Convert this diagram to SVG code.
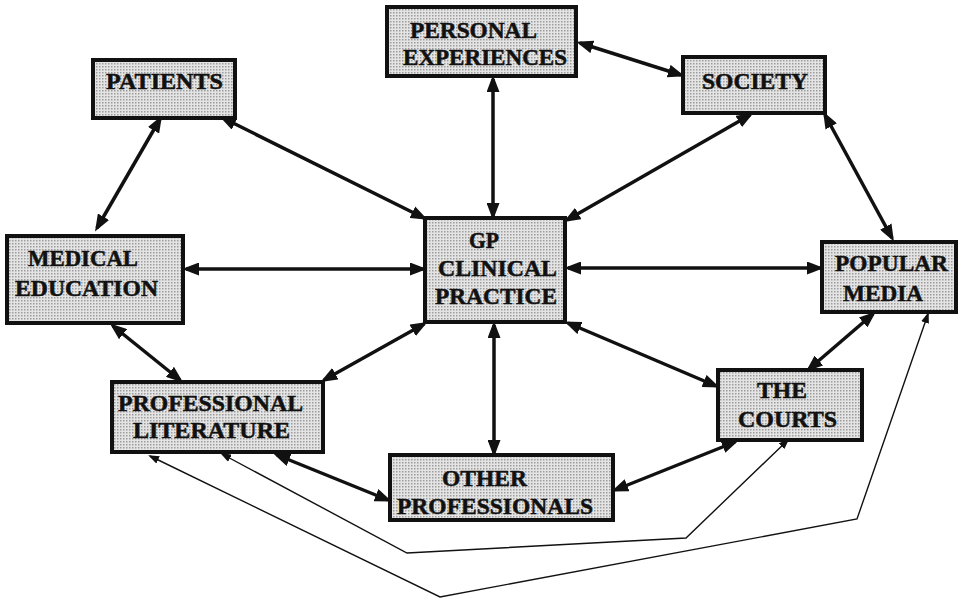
<svg xmlns="http://www.w3.org/2000/svg" width="962" height="606" viewBox="0 0 962 606">
<defs>
<pattern id="stip" width="3" height="3" patternUnits="userSpaceOnUse">
<rect width="3" height="3" fill="#e4e4e4"/>
<rect width="1.5" height="1.5" fill="#9c9c9c"/>
</pattern>
<marker id="ah" markerUnits="userSpaceOnUse" markerWidth="17" markerHeight="13" refX="13" refY="6.5" orient="auto-start-reverse">
<path d="M0,0 L17,6.5 L0,13 z" fill="#111"/>
</marker>
<marker id="as" markerUnits="userSpaceOnUse" markerWidth="11" markerHeight="8" refX="9" refY="4" orient="auto-start-reverse">
<path d="M0,0 L11,4 L0,8 z" fill="#111"/>
</marker>
</defs>
<style>
.box{fill:url(#stip);stroke:#111;stroke-width:4}
.t{font-family:"Liberation Serif","Times New Roman",serif;font-weight:bold;font-size:23px;fill:#111;stroke:#111;stroke-width:0.5;text-anchor:middle}
.c{fill:none;stroke:#111;stroke-width:3.5;marker-start:url(#ah);marker-end:url(#ah)}
.thin{fill:none;stroke:#111;stroke-width:1.4;stroke-linejoin:miter;marker-start:url(#as);marker-end:url(#as)}
</style>
<rect width="962" height="606" fill="#fff"/>
<g id="connectors">
<line class="c" x1="160" y1="119" x2="97" y2="228"/>
<line class="c" x1="223" y1="118" x2="424" y2="218"/>
<line class="c" x1="493" y1="79" x2="493" y2="216"/>
<line class="c" x1="580" y1="43" x2="681" y2="75"/>
<line class="c" x1="750" y1="115" x2="567" y2="220"/>
<line class="c" x1="825" y1="115" x2="892" y2="238"/>
<line class="c" x1="186" y1="269" x2="423" y2="269"/>
<line class="c" x1="568" y1="268" x2="820" y2="268"/>
<line class="c" x1="113" y1="326" x2="180" y2="380"/>
<line class="c" x1="424" y1="324" x2="324" y2="380"/>
<line class="c" x1="494" y1="325" x2="494" y2="453"/>
<line class="c" x1="568" y1="323" x2="716" y2="386"/>
<line class="c" x1="809" y1="369" x2="873" y2="314"/>
<line class="c" x1="277" y1="455" x2="388" y2="500"/>
<line class="c" x1="615" y1="490" x2="735" y2="442"/>
<polyline class="thin" points="788,440 686,538 407,553 222,454"/>
<polyline class="thin" points="928,314 857,519 440,597 150,456"/>
</g>
<g id="personal-experiences">
<rect class="box" x="387" y="7" width="189" height="69"/>
<text class="t" x="473.5" y="38" textLength="127" lengthAdjust="spacingAndGlyphs">PERSONAL</text>
<text class="t" x="485" y="65" textLength="164" lengthAdjust="spacingAndGlyphs">EXPERIENCES</text>
</g>
<g id="patients">
<rect class="box" x="93" y="60" width="142" height="58"/>
<text class="t" x="164.5" y="89" textLength="117" lengthAdjust="spacingAndGlyphs">PATIENTS</text>
</g>
<g id="society">
<rect class="box" x="683" y="57" width="142" height="56"/>
<text class="t" x="755" y="89" textLength="106" lengthAdjust="spacingAndGlyphs">SOCIETY</text>
</g>
<g id="medical-education">
<rect class="box" x="7" y="236" width="176" height="87"/>
<text class="t" x="83" y="266" textLength="110" lengthAdjust="spacingAndGlyphs">MEDICAL</text>
<text class="t" x="86.5" y="296" textLength="143" lengthAdjust="spacingAndGlyphs">EDUCATION</text>
</g>
<g id="gp-clinical-practice">
<rect class="box" x="425" y="218" width="140" height="104"/>
<text class="t" x="484" y="248" textLength="30" lengthAdjust="spacingAndGlyphs">GP</text>
<text class="t" x="497.5" y="276" textLength="119" lengthAdjust="spacingAndGlyphs">CLINICAL</text>
<text class="t" x="496" y="304" textLength="122" lengthAdjust="spacingAndGlyphs">PRACTICE</text>
</g>
<g id="popular-media">
<rect class="box" x="822" y="242" width="134" height="70"/>
<text class="t" x="891.5" y="271" textLength="113" lengthAdjust="spacingAndGlyphs">POPULAR</text>
<text class="t" x="883" y="301" textLength="80" lengthAdjust="spacingAndGlyphs">MEDIA</text>
</g>
<g id="professional-literature">
<rect class="box" x="112" y="382" width="211" height="70"/>
<text class="t" x="210.5" y="411" textLength="185" lengthAdjust="spacingAndGlyphs">PROFESSIONAL</text>
<text class="t" x="211.5" y="438" textLength="157" lengthAdjust="spacingAndGlyphs">LITERATURE</text>
</g>
<g id="the-courts">
<rect class="box" x="718" y="370" width="144" height="70"/>
<text class="t" x="782" y="398" textLength="50" lengthAdjust="spacingAndGlyphs">THE</text>
<text class="t" x="787.5" y="427" textLength="99" lengthAdjust="spacingAndGlyphs">COURTS</text>
</g>
<g id="other-professionals">
<rect class="box" x="390" y="455" width="223" height="65"/>
<text class="t" x="484.5" y="486" textLength="85" lengthAdjust="spacingAndGlyphs">OTHER</text>
<text class="t" x="495" y="514" textLength="196" lengthAdjust="spacingAndGlyphs">PROFESSIONALS</text>
</g>
</svg>
